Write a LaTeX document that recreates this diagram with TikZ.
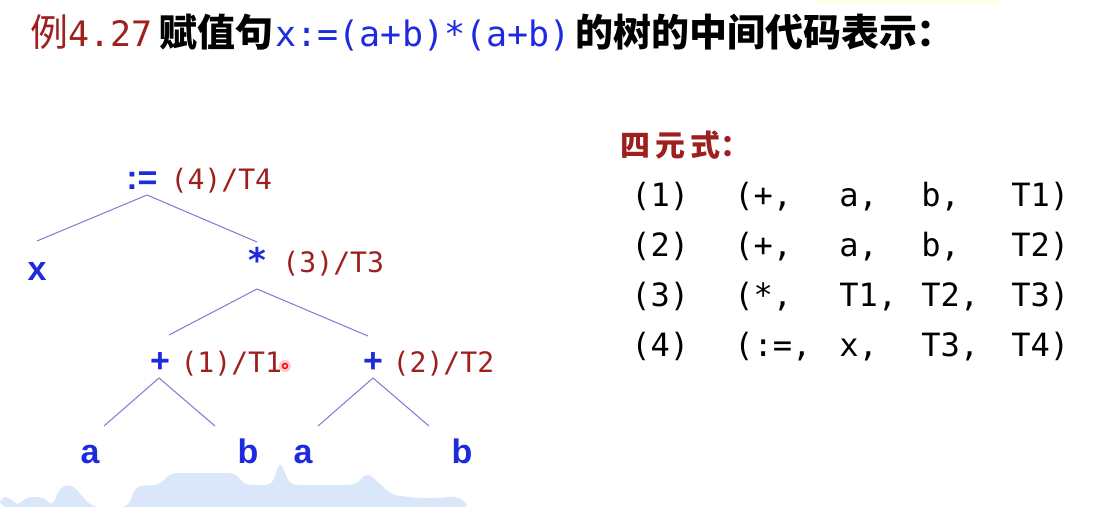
\documentclass[tikz,border=0pt]{standalone}
\usepackage{fontspec}
\setmainfont{Liberation Sans}
\newfontfamily\cjk{Noto Sans CJK SC}
\newfontfamily\mono{DejaVu Sans Mono}
\newfontfamily\symfont{DejaVu Sans}
\usetikzlibrary{positioning,calc}

\definecolor{opblue}{RGB}{30,42,222}
\definecolor{tagred}{RGB}{158,32,30}
\definecolor{branchc}{RGB}{128,128,212}
\definecolor{wavec}{RGB}{218,231,250}

\newcommand\titlecjk{\cjk\bfseries\fontsize{27pt}{32pt}\selectfont}
\newcommand\titlemono{\mono\fontsize{24.9pt}{30pt}\selectfont}

\begin{document}
\begin{tikzpicture}[x=0.025cm,y=-0.025cm,
    opnode/.style={text=opblue,font=\fontsize{24.2pt}{28pt}\selectfont\bfseries,anchor=base,inner sep=0pt},
    tag/.style={text=tagred,font=\mono\fontsize{20pt}{24pt}\selectfont,inner sep=0pt},
    branch/.style={draw=branchc,line width=0.75pt},
    quad/.style={font=\mono\fontsize{22.8pt}{27pt}\selectfont,anchor=base west,inner sep=0pt},
    heading/.style={anchor=base west,inner sep=0pt}]
  \fill[white] (0,0) rectangle (1114,507);
  \useasboundingbox (0,0) rectangle (1114,507);
  \fill[yellow!8] (815,0) rectangle (1000,4);

  % waves at the bottom
  \fill[wavec, rounded corners=5] (0,507) -- (0,497) -- (10,497) -- (18,507) -- (25,497) -- (45,497) -- (52,507)
    -- (60,487) -- (72,484) -- (82,496) -- (92,507) -- (128,507) -- (136,486) -- (160,485) -- (170,473)
    -- (236,473) -- (244,485) -- (272,485) -- (280,461) -- (290,485) -- (356,485) -- (367,472)
    -- (392,495) -- (418,498) -- (440,498) -- (458,496) -- (470,507) -- cycle;

  % title
  \node[heading, text=tagred] (exnum) at (30,46) {{\cjk\fontsize{27pt}{32pt}\selectfont 例}{\titlemono 4.27}};
  \node[heading, base right=0.15cm of exnum] (stmt) {\titlecjk 赋值句};
  \node[heading, base right=0.05cm of stmt, text=opblue] (expr) {\titlemono x:=(a+b)*(a+b)};
  \node[heading, base right=0.1cm of expr] (rest) {\titlecjk 的树的中间代码表示：};

  % tree
  \node[opnode] (root)  at (142,189) {:=};
  \node[opnode] (x)     at (37,280)  {x};
  \node[opnode] (mul)   at (257,272) {\symfont\bfseries *};
  \node[opnode] (plusl) at (160,372) {+};
  \node[opnode] (plusr) at (373,372) {+};
  \node[opnode] (a1)    at (90,463)  {a};
  \node[opnode] (b1)    at (248,463) {b};
  \node[opnode] (a2)    at (303,463) {a};
  \node[opnode] (b2)    at (462,463) {b};

  \node[tag, base right=0.31cm of root]  (t4) {(4)/T4};
  \node[tag, base right=0.4cm of mul]    (t3) {(3)/T3};
  \node[tag, base right=0.25cm of plusl] (t1) {(1)/T1};
  \node[tag, base right=0.23cm of plusr] (t2) {(2)/T2};

  \draw[branch] ($(root.base)+(5,6)$) -- ($(x.base)+(0,-39)$);
  \draw[branch] ($(root.base)+(5,6)$) -- ($(mul.base)+(0,-30)$);
  \draw[branch] ($(mul.base)+(0,17)$) -- ($(plusl.base)+(9,-37)$);
  \draw[branch] ($(mul.base)+(0,17)$) -- ($(plusr.base)+(-5,-36)$);
  \draw[branch] ($(plusl.base)+(-1,6)$) -- ($(a1.base)+(14,-37)$);
  \draw[branch] ($(plusl.base)+(-1,6)$) -- ($(b1.base)+(-33,-37)$);
  \draw[branch] ($(plusr.base)+(0,6)$) -- ($(a2.base)+(15,-37)$);
  \draw[branch] ($(plusr.base)+(0,6)$) -- ($(b2.base)+(-33,-37)$);

  % pointer dot
  \fill[red!20] (285,366) circle (6);
  \draw[red, line width=1pt] (285,366) circle (2.5);

  % quadruples
  \node[heading, text=tagred] (qhead) at (620,156)
    {\cjk\bfseries\fontsize{21.3pt}{25pt}\selectfont 四\,元\,式：};
  \foreach \n/\op/\u/\v/\w/\y in {1/+/a/b/T1/206, 2/+/a/b/T2/256, 3/*/T1/T2/T3/306, 4/:=/x/T3/T4/356}{
    \node[quad] (q\n)  at (631,\y)  {(\n)};
    \node[quad] (op\n) at (734,\y)  {(\op,};
    \node[quad] (u\n)  at (839,\y)  {\u,};
    \node[quad] (v\n)  at (921,\y)  {\v,};
    \node[quad] (w\n)  at (1011,\y) {\w)};
  }
\end{tikzpicture}
\end{document}
